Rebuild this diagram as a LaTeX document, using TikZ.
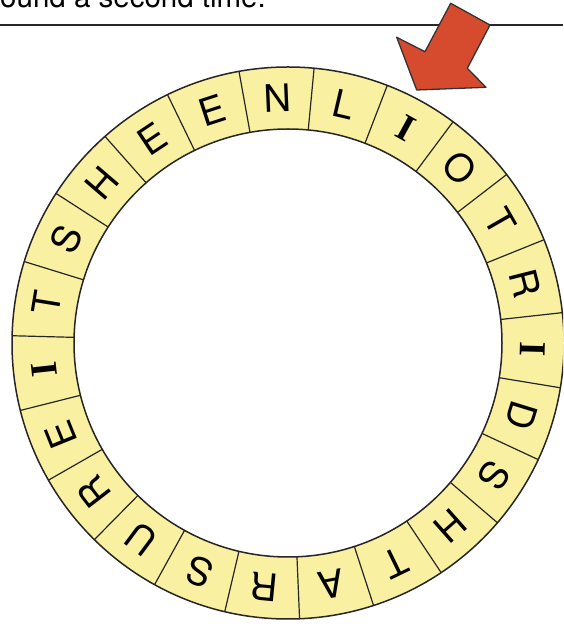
\documentclass[tikz,border=0pt]{standalone}
\usepackage{fontspec}
\setmainfont{TeX Gyre Heros}
\newfontfamily\serifface{Liberation Serif}
\definecolor{ringyellow}{RGB}{250,240,162}
\definecolor{arrowred}{RGB}{214,74,46}

\begin{document}
\begin{tikzpicture}[x=1pt,y=1pt,
  letter/.style={font=\fontsize{38}{38}\selectfont,inner sep=0pt},
  cellline/.style={line width=1.2pt,black!85}]
\useasboundingbox (0,0) rectangle (563,627);
\clip (0,0) rectangle (563,627);
\node[anchor=base west,inner sep=0pt,font=\fontsize{29.5}{30}\selectfont] (caption) at (0,619.5) {ound a second time.};
\draw[line width=1.6pt,black!85] (0,602) -- (563,602);
% the ring of letters
\coordinate (c) at (288,284);
\filldraw[fill=ringyellow,draw=black!85,line width=1.5pt,even odd rule] (c) circle (276) (c) circle (214);
\foreach \l [count=\k from 0] in {N,L,\serifface\bfseries I,O,T,R,\serifface\bfseries I,D,S,H,T,A,R,S,U,R,E,\serifface\bfseries I,T,S,H,E,E}{
  \pgfmathsetmacro\a{92.4-15.652*\k}
  \pgfmathsetmacro\b{\a+7.826}
  \draw[cellline] ([shift={(\b:214)}]c) -- ([shift={(\b:276)}]c);
  \node[letter,rotate=\a-90] (l\k) at ([shift={(\a:245)}]c) {\l};
}
% red pointer
\filldraw[fill=arrowred,draw=black!80,line width=1.3pt,line join=round]
  (450.7,623.7) -- (490,602) -- (467.3,558.7) -- (486,539.7) -- (416.7,537)
  -- (396.7,589.7) -- (425,575.3) -- cycle;
\end{tikzpicture}
\end{document}
